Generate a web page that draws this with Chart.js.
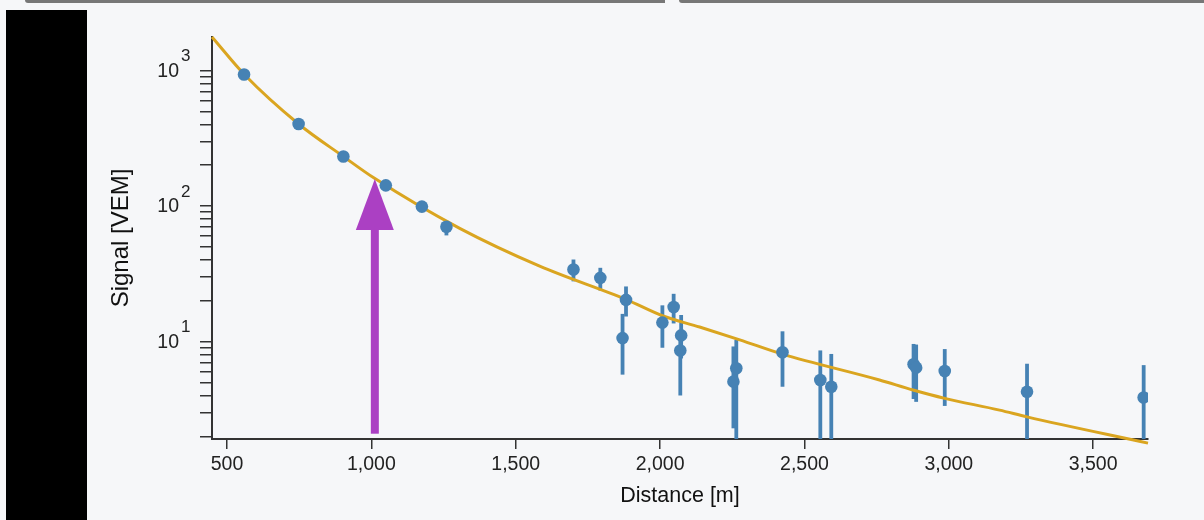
<!DOCTYPE html>
<html>
<head>
<meta charset="utf-8">
<script src="https://cdn.jsdelivr.net/npm/chart.js@4"></script>
<style>
  html, body { margin: 0; padding: 0; background: #f6f7f9; }
  body { width: 1204px; height: 520px; position: relative; overflow: hidden; }
  .bar { position: absolute; top: 0; height: 3px; background: #777; }
  #barL { left: 25px; width: 640px; border-bottom-left-radius: 3px; }
  #barR { left: 679px; width: 525px; border-bottom-left-radius: 3px; }
  #blk { position: absolute; left: 6px; top: 10px; width: 81px; height: 510px; background: #000; }
  #wrap { position: absolute; left: 0; top: 0; width: 1204px; height: 520px; }
</style>
</head>
<body>
<div class="bar" id="barL"></div>
<div class="bar" id="barR"></div>
<div id="blk"></div>
<div id="wrap"><canvas id="grafico-ldf" width="1204" height="520"></canvas></div>
<script>
// station signals vs distance from shower axis
const distancias = [559, 748, 903, 1050, 1175, 1260, 1700, 1793, 1882, 1870, 2008, 2047, 2073, 2070,
  2254, 2264, 2424, 2555, 2593, 2878, 2887, 2986, 3271, 3675];
const sinais = [934, 403, 232, 142, 99, 70.3, 34, 29.5, 20.3, 10.6, 13.8, 18.0, 11.1, 8.6,
  5.06, 6.35, 8.34, 5.2, 4.64, 6.8, 6.42, 6.07, 4.26, 3.87];
const erroBaixo = [900, 390, 225, 136, 92, 60.7, 27.8, 23.8, 15.3, 5.7, 9.0, 13.6, 7.5, 4.0,
  2.29, 1.5, 4.64, 1.5, 1.5, 3.77, 3.59, 3.35, 1.5, 1.5];
const erroAlto = [968, 416, 240, 148, 106, 78, 40.3, 35, 25.5, 16, 18.5, 22.5, 15.7, 12,
  9.2, 10.3, 11.9, 8.6, 8.1, 9.6, 9.5, 8.8, 6.86, 6.7];

// fitted LDF
const ajusteX = [448, 560, 748, 903, 1011, 1306, 1583, 1883, 2008, 2137, 2276, 2424, 2760, 2876, 2986, 3176, 3271, 3690];
const ajusteY = [1766, 934, 403, 232, 160, 68.4, 36, 20.4, 15.5, 12.8, 10.3, 8.07, 5.2, 4.39, 3.81, 3.12, 2.78, 1.78];

const xTicks = [500, 1000, 1500, 2000, 2500, 3000, 3500];
const yTicks = [2, 3, 4, 5, 6, 7, 8, 9, 10, 20, 30, 40, 50, 60, 70, 80, 90, 100,
  200, 300, 400, 500, 600, 700, 800, 900, 1000];
// labelled decades: value -> exponent
const yDecadas = [10, 100, 1000];
const yExpoentes = ['1', '2', '3'];

// arrow marking 1000 m
const setaX = 1012;
const setaDe = 2.09;
const setaAte = 158;

const fonte = 'Arial, "Liberation Sans", sans-serif';

const barrasErro = {
  id: 'barrasErro',
  beforeDatasetsDraw(chart) {
    const { ctx, chartArea, scales: { x, y } } = chart;
    ctx.save();
    ctx.beginPath();
    ctx.rect(chartArea.left, chartArea.top, chartArea.right - chartArea.left, chartArea.bottom - chartArea.top);
    ctx.clip();
    ctx.strokeStyle = '#4682b4';
    ctx.lineWidth = 3.8;
    for (let i = 0; i < distancias.length; i++) {
      const px = x.getPixelForValue(distancias[i]);
      ctx.beginPath();
      ctx.moveTo(px, y.getPixelForValue(erroBaixo[i]));
      ctx.lineTo(px, y.getPixelForValue(erroAlto[i]));
      ctx.stroke();
    }
    ctx.restore();
  }
};

// 10^n labels with a real raised exponent
const rotulosPotencia = {
  id: 'rotulosPotencia',
  afterDraw(chart) {
    const { ctx, scales: { y } } = chart;
    const xDir = y.right - 33;
    ctx.save();
    ctx.fillStyle = '#222';
    yDecadas.forEach((v, i) => {
      const py = y.getPixelForValue(v);
      ctx.font = '19.5px ' + fonte;
      ctx.textAlign = 'right';
      ctx.textBaseline = 'middle';
      ctx.fillText('10', xDir, py + 1);
      ctx.font = '17px ' + fonte;
      ctx.textAlign = 'left';
      ctx.textBaseline = 'alphabetic';
      ctx.fillText(yExpoentes[i], xDir + 2, py - 9.5);
    });
    ctx.restore();
  }
};

const seta = {
  id: 'seta',
  afterDatasetsDraw(chart) {
    const { ctx, scales: { x, y } } = chart;
    const px = x.getPixelForValue(setaX);
    const topo = y.getPixelForValue(setaAte);
    const base = y.getPixelForValue(setaDe);
    ctx.save();
    ctx.fillStyle = '#ab40c3';
    ctx.fillRect(px - 4, topo + 48, 8, base - topo - 48);
    ctx.beginPath();
    ctx.moveTo(px, topo);
    ctx.lineTo(px - 19, topo + 51);
    ctx.lineTo(px + 19, topo + 51);
    ctx.closePath();
    ctx.fill();
    ctx.restore();
  }
};

new Chart(document.getElementById('grafico-ldf'), {
  type: 'scatter',
  data: {
    datasets: [{
      type: 'scatter',
      data: distancias.map((d, i) => ({ x: d, y: sinais[i] })),
      backgroundColor: '#4682b4',
      borderWidth: 0,
      pointRadius: 6.3,
      pointHoverRadius: 6.3,
      order: 1
    }, {
      type: 'line',
      data: ajusteX.map((d, i) => ({ x: d, y: ajusteY[i] })),
      borderColor: '#daa520',
      borderWidth: 3,
      pointRadius: 0,
      cubicInterpolationMode: 'monotone',
      fill: false,
      clip: false,
      order: 2
    }]
  },
  options: {
    responsive: false,
    animation: false,
    devicePixelRatio: 1,
    layout: { padding: { left: 90, top: 37, right: 56, bottom: 0 } },
    plugins: { legend: { display: false }, tooltip: { enabled: false } },
    scales: {
      x: {
        type: 'linear',
        min: 448,
        max: 3690,
        afterBuildTicks: (s) => { s.ticks = xTicks.map(v => ({ value: v })); },
        afterFit: (s) => { s.height = 81; },
        grid: { drawOnChartArea: false, drawTicks: true, tickLength: 10, color: '#333', lineWidth: 1.5 },
        border: { display: true, color: '#333', width: 2 },
        ticks: {
          autoSkip: false, maxRotation: 0, padding: 4, color: '#222',
          font: { family: fonte, size: 19.5 },
          callback: (v) => Number(v).toLocaleString('en-US')
        },
        title: {
          display: true, text: 'Distance [m]', color: '#111',
          font: { family: fonte, size: 21.5 }, padding: { top: 0, bottom: 11 }
        }
      },
      y: {
        type: 'logarithmic',
        min: 1.91,
        max: 1766,
        afterBuildTicks: (s) => { s.ticks = yTicks.map(v => ({ value: v })); },
        afterFit: (s) => { s.width = 122; },
        grid: { drawOnChartArea: false, drawTicks: true, tickLength: 12, color: '#333', lineWidth: 1.5 },
        border: { display: true, color: '#333', width: 2 },
        ticks: {
          autoSkip: false, padding: 12, color: '#222',
          font: { family: fonte, size: 18 },
          callback: () => ''
        },
        title: {
          display: true, text: 'Signal [VEM]', color: '#111',
          font: { family: fonte, size: 24 }, padding: { top: 17, bottom: 0 }
        }
      }
    }
  },
  plugins: [barrasErro, seta, rotulosPotencia]
});
</script>
</body>
</html>
